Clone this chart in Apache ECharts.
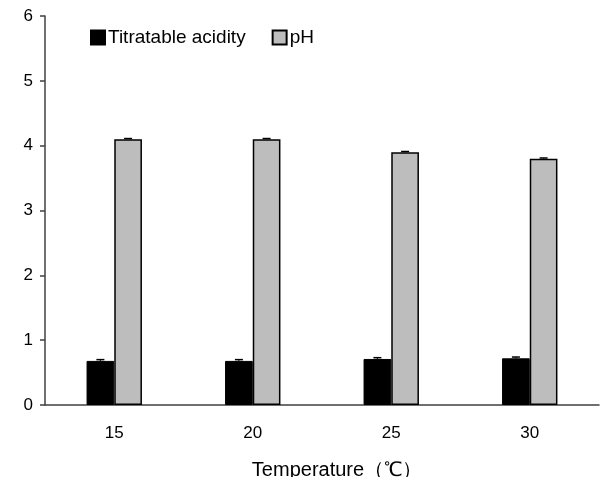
<!DOCTYPE html>
<html>
<head>
<meta charset="utf-8">
<script src="https://cdn.jsdelivr.net/npm/echarts@6/dist/echarts.min.js"></script>
<style>
  html, body { margin: 0; padding: 0; background: #fff; }
  #chart { width: 602px; height: 477px; }
</style>
</head>
<body>
<div id="chart"></div>
<script>
const categories = ['15', '20', '25', '30'];
const acidity = [0.68, 0.68, 0.71, 0.72];
const acidityErr = [0.02, 0.02, 0.02, 0.02];
const ph = [4.1, 4.1, 3.9, 3.8];
const phErr = [0.01, 0.01, 0.01, 0.01];
const yTicks = [0, 1, 2, 3, 4, 5, 6];

const font = 'Liberation Sans, Arial, sans-serif';
const axisColor = '#404040';

// small error bar drawn above each bar
function errorBar(offsetSign, vals, errs) {
  return {
    type: 'custom',
    z: 5,
    silent: true,
    renderItem: function (params, api) {
      const i = api.value(0);
      const base = api.coord([i, api.value(1)]);
      const top = api.coord([i, api.value(1) + api.value(2)]);
      const bw = api.size([1, 0])[0] * 0.2;
      const x = base[0] + offsetSign * bw / 2;
      return {
        type: 'group',
        children: [
          { type: 'line', shape: { x1: x, y1: base[1], x2: x, y2: top[1] }, style: { stroke: '#000', lineWidth: 1 } },
          { type: 'line', shape: { x1: x - 4, y1: top[1], x2: x + 4, y2: top[1] }, style: { stroke: '#000', lineWidth: 1.5 } }
        ]
      };
    },
    data: vals.map((v, i) => [i, v, errs[i]])
  };
}

const chart = echarts.init(document.getElementById('chart'));
chart.setOption({
  animation: false,
  backgroundColor: '#fff',
  textStyle: { fontFamily: font },
  grid: { left: 45, right: 3, top: 16, bottom: 72, outerBoundsMode: 'none', containLabel: false },
  legend: {
    left: 85, top: 23,
    itemWidth: 14, itemHeight: 14, itemGap: 26,
    icon: 'rect',
    textStyle: { fontFamily: font, fontSize: 19, color: '#000', padding: [0, 0, 0, -2] },
    data: ['Titratable acidity', 'pH']
  },
  xAxis: {
    type: 'category',
    data: categories,
    name: 'Temperature（℃）',
    nameLocation: 'middle',
    nameGap: 55,
    nameTextStyle: { fontFamily: font, fontSize: 20, color: '#000', padding: [0, 0, 0, 30] },
    axisLine: { lineStyle: { color: axisColor, width: 1.5 } },
    axisTick: { show: false },
    axisLabel: { fontFamily: font, fontSize: 17, color: '#000', margin: 20 }
  },
  yAxis: {
    type: 'value',
    min: yTicks[0], max: yTicks[yTicks.length - 1], interval: 1,
    axisLine: { show: true, lineStyle: { color: axisColor, width: 1.5 } },
    axisTick: { show: true, length: 5, lineStyle: { color: axisColor, width: 1.5 } },
    axisLabel: { fontFamily: font, fontSize: 17, color: '#000', margin: 12 },
    splitLine: { show: false }
  },
  series: [
    {
      name: 'Titratable acidity',
      type: 'bar',
      barGap: '0%',
      barCategoryGap: '60%',
      itemStyle: { color: '#000', borderColor: '#000', borderWidth: 1 },
      data: acidity
    },
    {
      name: 'pH',
      type: 'bar',
      itemStyle: { color: '#bdbdbd', borderColor: '#000', borderWidth: 1.5 },
      data: ph
    },
    errorBar(-1, acidity, acidityErr),
    errorBar(1, ph, phErr)
  ]
});
</script>
</body>
</html>
